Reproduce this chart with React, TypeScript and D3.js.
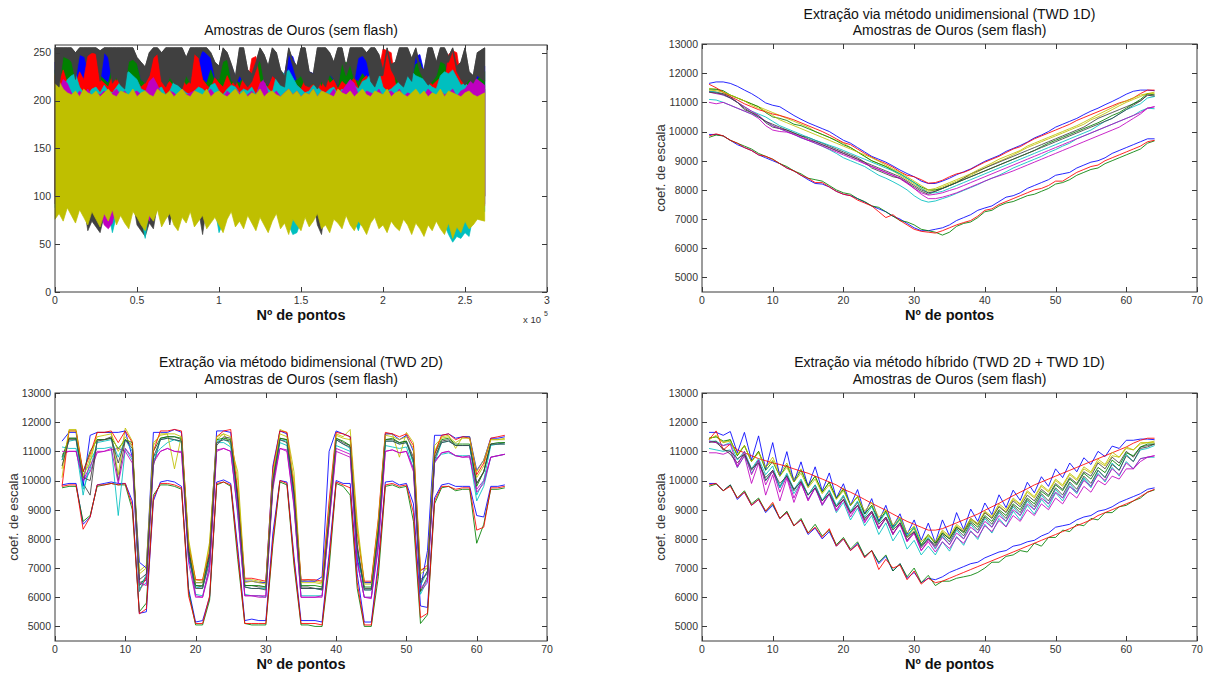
import React from 'react';
import * as d3 from 'd3';

// MATLAB (pre-2014) default colour order
const seriesColors = ['#0000ff', '#008000', '#ff0000', '#00bfbf', '#bf00bf', '#bfbf00', '#404040'];
const pointIndex = d3.range(1, 65);

// ---------- TWD 1D ----------
const w1_lowBlue = [9900,9900,9850,9700,9550,9450,9350,9200,9100,9000, 8900,8750,8650,8500,8350,8220,8200,8100,7950,7850, 7800,7700,7580,7450,7350,7250,7100,7000,6850,6700, 6600,6600,6650,6700,6800,6950,7050,7150,7300,7380, 7450,7600,7750,7800,7900,8050,8150,8250,8350,8500, 8550,8600,8750,8850,8950,9000,9100,9250,9350,9450, 9550,9650,9750,9750];
const w1_lowGreen = [9800,9880,9850,9700,9600,9500,9400,9250,9150,9050, 8900,8800,8650,8550,8400,8350,8300,8150,8000,7900, 7850,7700,7600,7450,7400,7250,7100,6950,6900,6800, 6650,6600,6550,6450,6550,6750,6850,6900,7050,7250, 7300,7450,7550,7600,7700,7800,7850,7950,8050,8200, 8250,8350,8500,8600,8700,8750,8900,9000,9100,9200, 9300,9400,9600,9680];
const w1_lowRed = [9850,9920,9850,9700,9600,9450,9350,9200,9150,9050, 8900,8750,8650,8500,8400,8250,8250,8100,7950,7850, 7800,7650,7550,7450,7250,7050,7150,6950,6800,6650, 6580,6550,6520,6600,6700,6800,6880,6950,7100,7300, 7350,7500,7600,7700,7800,7900,8000,8050,8150,8300, 8300,8450,8600,8700,8800,8850,9000,9100,9200,9300, 9400,9500,9650,9700];
const w1_cyanA = [11100,11080,11000,10900,10800,10700,10600,10500,10350,10200, 10100,10000,9900,9780,9700,9600,9500,9380,9250,9100, 9000,8900,8800,8650,8500,8400,8280,8150,8000,7800, 7650,7580,7620,7700,7780,7880,7980,8080,8180,8300, 8400,8500,8620,8750,8850,8950,9050,9150,9280,9380, 9500,9600,9750,9850,9950,10050,10150,10250,10350,10450, 10550,10700,10800,10780];
const w1_magentaA = [11000,10950,11000,10900,10800,10700,10600,10450,10200,10050, 10000,9980,9900,9800,9700,9650,9550,9450,9350,9250, 9150,9050,8900,8800,8700,8600,8500,8380,8220,8050, 7850,7700,7700,7750,7820,7900,8000,8100,8200,8300, 8400,8480,8560,8650,8750,8850,8950,9050,9150,9250, 9350,9450,9550,9650,9750,9850,9950,10050,10150,10300, 10450,10600,10800,10850];
const w1_yellowA = [11480,11450,11350,11250,11150,11050,10950,10850,10750,10650, 10550,10450,10350,10250,10150,10000,9900,9800,9700,9600, 9450,9300,9150,9000,8900,8800,8650,8500,8350,8200, 8050,7950,8000,8100,8200,8300,8400,8500,8620,8750, 8870,8980,9080,9200,9320,9450,9550,9650,9750,9850, 9950,10050,10150,10250,10400,10500,10620,10750,10880,11000, 11100,11200,11300,11350];
const w1_grayA = [11380,11350,11300,11200,11000,10750,10650,10550,10300,10150, 10100,10050,9950,9850,9800,9700,9600,9500,9400,9300, 9200,9100,8950,8750,8650,8550,8450,8400,8250,8100, 7950,7850,7950,8050,8150,8250,8400,8550,8650,8750, 8850,8950,9050,9150,9250,9350,9450,9550,9650,9750, 9850,9950,10050,10150,10300,10450,10550,10650,10750,10850, 10950,11050,11250,11200];
const w1_blue = [11650,11700,11700,11650,11550,11420,11300,11150,10980,10900, 10850,10700,10550,10420,10300,10200,10100,10000,9850,9700, 9600,9450,9300,9150,9050,8950,8820,8680,8560,8450, 8300,8220,8220,8300,8400,8520,8620,8720,8850,8980, 9080,9180,9320,9420,9520,9640,9780,9880,10000,10150, 10250,10350,10450,10580,10700,10800,10920,11030,11150,11280, 11380,11420,11420,11400];
const w1_green = [11450,11450,11400,11250,11150,11050,10950,10850,10650,10500, 10450,10380,10250,10200,10100,10000,9900,9800,9680,9550, 9450,9300,9150,9000,8900,8800,8680,8550,8400,8250, 8100,8000,8000,8050,8150,8250,8350,8450,8550,8650, 8750,8850,8950,9050,9150,9250,9350,9480,9600,9700, 9800,9900,10000,10100,10200,10300,10420,10550,10650,10800, 10950,11100,11300,11250];
const w1_red = [11620,11500,11350,11200,11080,10950,10850,10750,10680,10600, 10550,10480,10400,10300,10200,10100,10000,9880,9750,9620, 9550,9400,9250,9120,9000,8900,8780,8620,8500,8450, 8350,8230,8250,8330,8450,8550,8600,8700,8830,8950, 9050,9150,9280,9400,9480,9620,9750,9850,9950,10050, 10150,10250,10380,10480,10580,10680,10780,10880,10980,11050, 11150,11300,11420,11420];
const w1_cyanB = [11380,11350,11250,11150,11000,10850,10700,10600,10500,10350, 10200,10100,10000,9900,9800,9700,9620,9530,9450,9350, 9250,9150,9050,8950,8850,8750,8650,8550,8400,8250, 8050,7900,7900,7950,8050,8150,8250,8350,8450,8550, 8650,8750,8850,8950,9050,9150,9250,9350,9450,9550, 9650,9750,9850,9950,10050,10200,10350,10450,10600,10750, 10850,10950,11150,11200];
const w1_magentaB = [11350,11300,11250,11150,11000,10850,10700,10550,10350,10200, 10100,10000,9900,9800,9700,9600,9500,9400,9300,9200, 9100,9000,8900,8800,8700,8600,8500,8400,8250,8050, 7900,7820,7850,7900,7980,8050,8150,8250,8350,8450, 8550,8650,8750,8850,8950,9050,9150,9250,9350,9450, 9550,9650,9750,9850,9950,10050,10150,10250,10350,10450, 10550,10650,10800,10850];
const w1_yellowB = [11420,11400,11350,11250,11150,11050,10900,10800,10700,10550, 10400,10300,10200,10100,10000,9900,9800,9700,9600,9500, 9400,9300,9200,9100,8980,8850,8720,8600,8450,8300, 8150,8000,8050,8150,8250,8350,8450,8550,8680,8800, 8920,9050,9150,9250,9350,9500,9600,9700,9800,9900, 10000,10100,10200,10320,10450,10580,10700,10820,10950,11050, 11150,11250,11300,11300];
const w1_grayB = [11350,11320,11280,11150,11000,10800,10650,10500,10350,10250, 10150,10050,9950,9850,9750,9650,9550,9450,9350,9250, 9150,9050,8950,8850,8750,8650,8550,8450,8300,8150, 8000,7900,7950,8050,8150,8250,8350,8450,8550,8650, 8750,8850,8950,9050,9150,9250,9350,9450,9550,9650, 9750,9850,9950,10050,10150,10250,10350,10450,10600,10750, 10900,11050,11250,11250];

// ---------- TWD 2D ----------
const w2_lowBlue = [9850,9900,9900,8500,8750,9850,9900,9950,9900,9900, 9300,5450,5500,9300,9950,10000,9950,9800,6300,5150, 5200,6000,9950,10020,9900,7700,5200,5250,5200,5200, 8200,10000,9950,7400,5200,5200,5200,5150,7500,10000, 9900,9900,6800,5150,5150,7200,9950,9980,9850,9900, 9200,5700,5650,9400,9850,9900,9800,9800,9800,8800, 8750,9800,9800,9850];
const w2_lowGreen = [9750,9800,9800,8600,8800,9800,9850,9900,9850,9850, 9000,5500,5800,9500,9850,9850,9800,9700,6200,5050, 5050,5900,9850,9950,9800,7300,5100,5050,5050,5050, 7800,9950,9850,7100,5050,5050,5000,5000,7000,9900, 9800,9500,6300,5000,5000,6700,9800,9850,9750,9800, 8600,5100,5400,9200,9750,9800,9650,9700,9700,7850, 8500,9700,9700,9750];
const w2_lowRed = [9800,9850,9850,8330,8750,9850,9850,9900,9850,9900, 9150,5430,5600,9400,9900,9900,9850,9750,6050,5100, 5100,6050,9900,9950,9850,7500,5100,5100,5100,5100, 7950,10000,9900,7250,5100,5100,5100,5050,7250,9950, 9850,9750,6500,5050,5050,7000,9850,9900,9800,9850, 8900,5300,5450,9300,9800,9800,9700,9750,9750,8300, 8400,9750,9750,9800];
const w2_cyanA = [11150,11100,11100,9500,10700,11100,11100,11150,8800,11100, 10700,6300,6500,10800,11100,11300,11400,11300,7500,6100, 6050,7000,11300,11300,11150,8800,6100,6050,6050,6000, 9900,11300,11200,9200,6050,6050,6050,6050,8600,11200, 11100,11000,7200,6000,6000,7800,11200,11150,11100,11150, 10400,6100,6600,10700,10900,10950,10850,10850,10850,9300, 9800,10800,10850,10900];
const w2_magentaA = [10900,11000,11000,10000,10300,10950,11000,11050,11100,11000, 10600,6400,6600,10700,11000,11100,11000,10950,7600,6050, 6000,6900,11000,11100,11000,8900,6050,6050,6050,6050, 9700,11100,11000,9100,6000,6000,6000,6050,8500,11000, 10900,10800,7300,6000,5950,7700,11000,11050,10950,11000, 10300,6200,6500,10600,10950,11000,10850,10800,10800,9700, 10000,10800,10850,10900];
const w2_yellowA = [10100,11750,11750,10200,10600,11650,11650,11650,10200,11800, 11350,6900,7100,11200,11600,11600,10400,11550,8000,6600, 6550,7900,11400,11600,11200,10300,6600,6600,6550,6500, 10100,11750,11650,10300,6550,6600,6550,6500,8900,11600, 11500,11750,8600,6500,6500,8500,11600,11600,10800,11650, 11300,6950,7000,11000,11500,11550,11100,11500,11500,10100, 10500,11400,11400,11450];
const w2_grayA = [10700,11450,11450,9900,9500,11400,11400,11500,10000,11400, 11200,6500,6600,10500,11450,11500,11500,11400,7600,6400, 6350,7200,11200,11500,11450,9300,6400,6400,6350,6350, 9800,11450,11400,9400,6350,6350,6300,6300,8700,11450, 11300,11200,7800,6300,6300,8300,11400,11400,11300,11350, 10800,6600,6800,10700,11350,11400,11200,11200,11200,9900, 10300,11250,11250,11300];
const w2_blue = [11350,11650,11650,9800,11550,11650,11650,11650,11650,11700, 10800,7200,7000,11650,11650,11650,11750,11650,7300,6500, 6500,7500,11700,11700,11650,9200,6550,6550,6500,6500, 10500,11700,11600,9500,6550,6550,6550,6700,11000,11700, 11600,11500,7300,6500,6500,8200,11600,11600,11400,11550, 11000,6300,7600,11550,11550,11600,11450,11500,11500,10350, 10700,11450,11450,11500];
const w2_green = [10800,11450,11450,10300,11000,11400,11400,11450,11100,11400, 11300,6400,6700,11000,11450,11500,11500,11450,7700,6400, 6400,7500,11400,11450,11400,9500,6400,6400,6400,6350, 10100,11450,11400,9600,6400,6400,6400,6350,8800,11450, 11350,11200,7600,6350,6350,8400,11400,11450,11300,11350, 10600,6200,6700,10900,11400,11450,11250,11250,11250,9800, 10300,11250,11300,11300];
const w2_red = [9800,11700,11700,10300,10900,11650,11650,11700,11300,11700, 11300,6200,6700,11000,11700,11700,11750,11700,7800,6600, 6600,7600,11500,11700,11750,9600,6650,6650,6600,6550, 10400,11700,11650,9800,6600,6600,6600,6550,9300,11650, 11600,11500,8200,6550,6550,8700,11650,11600,11500,11600, 11200,6900,7100,10900,11550,11600,11400,11500,11450,10200, 10600,11450,11500,11550];
const w2_cyanB = [10700,11350,11400,9700,10400,11300,11350,11400,10800,11400, 11000,6200,6800,10600,11400,11450,11400,11350,7400,6350, 6300,7300,11350,11400,11300,9100,6350,6300,6300,6300, 10000,11400,11350,9300,6300,6300,6300,6250,8700,11400, 11250,11100,7500,6250,6250,8100,11350,11350,11250,11300, 10600,6400,6900,10600,11300,11350,11200,11200,11200,9500, 10000,11200,11250,11250];
const w2_magentaB = [11000,11000,11000,10000,10500,11000,11000,11100,9900,11100, 10800,6500,6400,10600,11000,11100,11000,11000,7200,6000, 6000,7100,11050,11100,11000,9000,6050,6050,6000,6000, 9900,11100,11050,9200,6000,6000,6000,6000,8600,11100, 11000,10900,7200,6000,6000,7900,11000,11050,10950,11000, 10400,6300,6600,10650,10950,11000,10850,10800,10850,9600, 9900,10800,10850,10900];
const w2_yellowB = [10400,11700,11700,10100,10800,11500,11550,11600,11000,11500, 11200,6800,7000,11300,11550,11600,11600,11500,7900,6500, 6500,7800,11500,11600,11500,10000,6500,6550,6500,6450, 10200,11600,11500,10000,6500,6500,6500,6450,9000,11550, 11450,11400,8400,6450,6450,8600,11550,11500,11400,11500, 11100,6800,7000,11200,11450,11500,11300,11450,11450,10300, 10700,11400,11400,11400];
const w2_grayB = [10500,11400,11400,10100,10000,11350,11400,11450,10600,11400, 11100,6600,6800,10800,11400,11450,11400,11350,7500,6300, 6300,7400,11300,11400,11350,9400,6350,6300,6300,6250, 10000,11400,11300,9600,6300,6300,6300,6250,8800,11400, 11250,11150,7700,6250,6250,8200,11350,11350,11250,11300, 10700,6500,6900,10800,11300,11350,11200,11200,11200,9900, 10300,11250,11250,11250];

// ---------- Hybrid (TWD 2D + TWD 1D) ----------
const wh_lowBlue = [9900,9900,9650,9850,9350,9600,9150,9350,8900,9150, 8700,8900,8450,8650,8150,8370,8000,8250,7750,8000, 7600,7850,7380,7600,7150,7400,6900,7150,6650,6850, 6500,6650,6600,6700,6850,6950,7050,7150,7200,7350, 7450,7550,7600,7750,7800,7900,7950,8100,8200,8400, 8450,8500,8650,8750,8800,8950,9000,9100,9250,9350, 9450,9550,9700,9750];
const wh_lowGreen = [9800,9880,9650,9850,9400,9650,9200,9400,8950,9200, 8700,8950,8450,8700,8200,8500,8100,8300,7800,8050, 7650,7900,7400,7600,7200,7450,6900,7150,6700,7000, 6500,6750,6400,6550,6550,6650,6700,6750,6850,7000, 7200,7200,7400,7450,7600,7550,7850,7750,8050,8050, 8300,8250,8500,8450,8700,8650,8900,8900,9100,9150, 9300,9400,9600,9680];
const wh_lowRed = [9850,9900,9650,9800,9400,9600,9150,9350,8950,9250, 8700,8900,8450,8650,8200,8400,8050,8350,7750,8000, 7600,7800,7350,7600,6950,7300,7000,7100,6600,6900, 6450,6650,6500,6550,6650,6750,6850,6950,7050,7150, 7250,7350,7450,7550,7650,7750,7850,7950,8050,8150, 8250,8350,8450,8550,8650,8800,8900,9000,9100,9200, 9300,9450,9600,9700];
const wh_cyanA = [11100,11050,11000,11050,10450,10850,10250,10650,10000,10350, 9750,10150,9550,9930,9350,9750,9150,9530,8900,9250, 8650,9050,8450,8800,8150,8550,7930,8300,7650,7950, 7450,7750,7450,7900,7580,8080,7780,8280,7980,8500, 8200,8700,8420,8950,8650,9150,8850,9350,9080,9580, 9300,9800,9550,10050,9750,10250,9950,10450,10150,10650, 10400,10750,10800,10800];
const wh_magentaA = [10950,10950,10900,11000,10450,10850,9900,10600,9500,10200, 9300,10080,9250,9900,9350,9750,9200,9550,9000,9350, 8850,9150,8600,8900,8400,8700,8200,8480,7920,8200, 7600,7900,7550,7900,7670,8050,7850,8250,8050,8450, 8250,8630,8410,8800,8600,9000,8800,9200,9000,9400, 9200,9600,9400,9800,9600,10000,9850,10150,10050,10400, 10400,10650,10800,10850];
const wh_yellowA = [11450,11500,11300,11400,10850,11200,10650,11000,10450,10800, 10250,10600,10050,10400,9850,10150,9600,9950,9400,9750, 9150,9450,8850,9150,8600,8950,8350,8650,8050,8350, 7800,8100,7850,8250,8050,8450,8250,8650,8470,8900, 8720,9130,8930,9350,9170,9600,9400,9800,9600,10000, 9800,10200,10000,10400,10250,10650,10500,10850,10800,11100, 11050,11250,11300,11350];
const wh_grayA = [11350,11300,11100,10900,10600,10900,10350,10700,10000,10300, 9800,10200,9650,10000,9500,9850,9300,9650,9100,9450, 8900,9250,8650,8900,8350,8700,8150,8550,7950,8250, 7700,8000,7800,8200,8000,8400,8250,8700,8500,8900, 8700,9100,8900,9300,9100,9500,9300,9700,9500,9900, 9700,10100,9900,10300,10150,10600,10400,10800,10600,11000, 10800,11150,11200,11250];
const wh_blue = [11650,11650,11550,11680,10950,11650,10700,11530,10380,11300, 10150,10990,9950,10640,9800,10470,9650,10260,9400,9890, 9150,9690,8850,9380,8600,9150,8420,8860,8160,8650, 7950,8540,7870,8650,8100,8900,8320,9020,8600,9230, 8830,9510,9070,9670,9320,9940,9580,10130,9800,10400, 10100,10600,10300,10780,10550,11000,10820,11180,11100,11380, 11380,11420,11420,11400];
const wh_green = [11450,11500,11350,11400,10850,11200,10650,11000,10350,10650, 10150,10530,9950,10350,9800,10150,9600,9950,9380,9700, 9150,9450,8850,9150,8600,8950,8380,8700,8100,8400, 7800,8150,7850,8200,8000,8400,8200,8600,8400,8800, 8600,9000,8800,9200,9000,9400,9200,9630,9450,9850, 9650,10050,9850,10250,10050,10450,10270,10700,10500,10950, 10850,11150,11250,11250];
const wh_red = [11400,11700,11050,11250,11050,10950,10850,10750,10680,10600, 10550,10480,10400,10320,10250,10150,10050,9950,9850,9700, 9600,9480,9350,9220,9100,8980,8850,8720,8600,8500, 8400,8300,8300,8350,8450,8550,8650,8750,8850,8980, 9100,9220,9350,9480,9600,9720,9850,9950,10050,10150, 10250,10350,10450,10550,10650,10750,10850,10950,11050,11150, 11280,11380,11450,11450];
const wh_cyanB = [11350,11350,11200,11300,10700,11000,10400,10750,10200,10500, 9750,10250,9700,10050,9500,9850,9320,9680,9150,9500, 8950,9300,8750,9100,8550,8900,8350,8700,8100,8400, 7750,8050,7650,8100,7800,8300,8000,8500,8200,8700, 8400,8900,8600,9100,8800,9300,9000,9500,9200,9700, 9400,9900,9600,10100,9800,10350,10100,10600,10350,10900, 10650,11050,11100,11200];
const wh_magentaB = [11350,11300,11200,11250,10500,11000,10200,10700,9850,10350, 9600,10150,9400,9950,9300,9750,9150,9550,8950,9350, 8750,9150,8550,8950,8350,8750,8150,8550,7900,8200, 7600,7950,7700,8050,7800,8200,8000,8400,8200,8600, 8400,8800,8600,9000,8800,9200,9000,9400,9200,9600, 9400,9800,9600,10000,9800,10200,10000,10400,10200,10600, 10400,10750,10800,10850];
const wh_yellowB = [11400,11550,11300,11350,10900,11200,10650,10950,10450,10700, 10150,10450,9950,10250,9750,10050,9550,9850,9350,9650, 9150,9450,8950,9250,8730,9000,8470,8750,8200,8450, 7900,8150,7900,8300,8100,8500,8300,8700,8530,8950, 8770,9200,9000,9400,9200,9650,9450,9850,9650,10050, 9850,10250,10050,10470,10300,10730,10550,10970,10800,11150, 11050,11300,11300,11300];
const wh_grayB = [11300,11350,11050,11000,10750,10900,10400,10600,10100,10350, 9900,10150,9700,9950,9500,9750,9300,9550,9100,9350, 8900,9150,8700,8950,8500,8750,8300,8550,8050,8250, 7750,8000,7750,8150,7900,8350,8100,8550,8300,8750, 8500,8950,8700,9150,8900,9350,9100,9550,9300,9750, 9500,9950,9700,10150,9900,10350,10100,10550,10350,10850, 10650,11100,11150,11250];

const series1D = [w1_lowBlue, w1_lowGreen, w1_lowRed, w1_cyanA, w1_magentaA, w1_yellowA, w1_grayA, w1_blue, w1_green, w1_red, w1_cyanB, w1_magentaB, w1_yellowB, w1_grayB];
const series2D = [w2_lowBlue, w2_lowGreen, w2_lowRed, w2_cyanA, w2_magentaA, w2_yellowA, w2_grayA, w2_blue, w2_green, w2_red, w2_cyanB, w2_magentaB, w2_yellowB, w2_grayB];
const seriesHyb = [wh_lowBlue, wh_lowGreen, wh_lowRed, wh_cyanA, wh_magentaA, wh_yellowA, wh_grayA, wh_blue, wh_green, wh_red, wh_cyanB, wh_magentaB, wh_yellowB, wh_grayB];

// ---------- Raw samples: envelopes read every 2500 points ----------
const tlSampleX = [...d3.range(0, 260000, 2500), 262000];
const tlGrayTopUpper = [255,255,255,255,255,250,255,255,255,255, 255,252,255,255,255,255,255,255,255,255, 245,240,235,250,255,255,250,255,255,255, 255,255,245,255,255,255,255,255,250,240, 236,255,250,238,225,255,255,232,228,240, 255,248,236,255,250,232,226,255,242,236, 255,255,230,228,255,255,255,250,240,255, 255,235,255,255,255,255,250,255,255,248, 232,255,238,240,255,255,255,244,255,236, 232,255,255,240,255,255,246,255,236,240, 255,230,226,250,255];
const tlGrayTopLower = [218,214,246,244,242,222,248,246,248,250, 250,220,250,246,218,224,216,212,242,244, 240,222,218,226,246,250,220,214,224,218, 216,212,226,218,250,246,252,250,246,224, 222,242,244,222,216,226,220,214,220,232, 244,220,216,226,222,216,214,250,236,222, 226,216,214,218,212,220,214,228,222,216, 240,226,238,222,246,248,242,220,214,226, 226,252,232,224,218,214,226,220,248,230, 222,216,220,226,242,240,240,252,230,222, 216,222,218,226,220];
const tlRedUpper = [226,220,232,218,224,216,230,222,246,250, 248,222,218,214,226,220,232,218,228,224, 220,214,218,226,244,248,222,216,220,214, 228,222,216,220,248,244,222,216,212,224, 218,214,226,216,222,212,224,218,244,246, 220,216,214,226,222,218,224,214,220,216, 212,222,218,216,224,214,226,218,222,212, 220,216,218,224,212,222,226,218,220,230, 254,252,250,218,214,224,220,216,226,218, 214,222,216,220,224,218,248,252,250,222, 218,214,220,216,212];
const tlGreenUpper = [232,226,246,244,240,224,218,222,226,218, 220,226,222,218,236,226,222,220,240,242, 238,220,226,218,222,214,226,218,234,222, 228,222,230,224,218,238,222,218,232,220, 226,240,242,220,222,218,226,220,218,242, 240,224,216,220,228,218,220,226,218,222, 226,220,218,224,230,222,218,226,220,214, 238,240,236,222,220,228,222,218,228,224, 218,220,226,232,224,220,218,222,238,240, 224,218,220,226,240,238,222,226,220,218, 228,226,224,222,230];
const tlBlueUpper = [240,232,228,236,230,226,248,246,230,226, 228,226,250,244,238,232,228,226,232,230, 236,232,230,240,228,232,236,226,238,232, 228,232,236,230,226,238,252,248,244,232, 228,232,230,236,224,230,236,228,226,232, 236,226,232,240,230,224,228,248,246,232, 226,232,230,228,236,232,228,224,230,226, 232,228,224,236,244,246,240,232,230,228, 226,232,230,224,232,230,228,236,246,248, 230,228,226,232,228,226,242,244,230,226, 232,228,224,234,236];
const tlCyanUpper = [212,208,210,222,226,228,214,208,206,212, 214,208,216,210,208,214,220,228,230,226, 222,212,210,206,208,212,214,206,210,220, 216,212,208,206,210,214,212,208,216,218, 210,206,212,216,214,208,212,210,214,206, 216,218,212,208,226,230,228,232,224,216, 212,208,210,216,214,210,208,212,214,206, 212,208,210,216,212,220,222,228,232,230, 214,210,212,216,220,226,228,230,226,224, 222,218,214,212,226,230,228,232,224,216, 218,214,212,210,212];
const tlCyanLower = [88,92,84,96,90,84,96,88,80,94, 86,78,92,84,62,80,90,82,76,94, 88,80,56,90,84,96,78,86,92,80, 74,88,82,94,78,84,90,76,82,88, 62,72,86,94,78,84,76,90,82,74, 88,80,72,84,92,76,82,70,60,62, 74,88,78,84,92,76,80,72,86,82, 76,90,80,74,64,78,70,82,88,76, 80,72,84,78,74,86,80,70,82,76, 68,80,74,84,76,70,60,52,58,56, 62,58,80,86,84];
const tlMagentaUpper = [206,210,222,218,208,204,210,206,212,204, 208,206,210,204,208,212,206,210,204,208, 210,206,208,220,224,216,206,204,210,208, 204,212,206,208,210,206,204,208,212,206, 208,204,210,206,212,208,204,206,210,204, 218,222,208,206,210,204,208,212,206,210, 204,208,206,212,204,210,208,206,212,204, 210,216,222,218,206,204,210,208,206,212, 204,208,210,206,212,204,208,206,210,204, 206,212,208,204,210,206,208,212,204,210, 212,218,224,222,216];
const tlMagentaLower = [92,96,90,98,94,88,96,90,86,94, 90,84,70,66,72,92,88,94,86,96, 90,84,88,74,90,96,86,92,94,88, 86,92,88,96,90,86,94,88,90,96, 88,84,92,96,86,90,84,94,88,82, 92,86,80,90,94,84,88,82,92,86, 84,92,86,90,94,80,88,84,92,88, 84,94,88,82,90,86,78,90,94,84, 88,80,90,86,82,92,88,78,90,84, 80,88,82,92,84,78,90,80,86,82, 90,84,88,92,90];
const tlGrayLowLower = [92,96,88,98,94,90,96,92,64,74, 68,62,80,90,96,88,94,90,86,96, 70,64,58,72,66,92,88,94,70,92, 88,94,90,96,92,86,60,90,88,94, 90,86,92,96,88,92,86,94,90,84, 92,88,84,90,94,86,90,84,92,88, 86,92,88,94,70,60,92,86,94,90, 88,94,90,84,92,88,82,92,94,86, 90,84,92,88,86,94,90,82,92,88, 84,90,86,94,88,82,92,84,90,86, 92,88,90,94,92];
const tlYellowUpper = [228,220,212,208,206,210,204,212,208,206, 210,204,208,212,206,204,210,208,206,212, 204,208,210,206,204,212,208,206,210,204, 208,212,206,204,210,208,206,212,204,208, 210,206,204,208,212,206,210,204,208,206, 212,204,208,210,206,204,208,212,206,210, 204,208,206,212,204,210,208,206,204,212, 208,206,210,204,208,212,206,204,210,208, 206,212,204,208,210,206,204,208,212,206, 210,204,208,206,212,204,210,208,206,204, 208,210,206,204,208];
const tlYellowLower = [76,82,74,88,80,72,86,78,70,84, 76,68,82,74,86,70,80,72,66,84, 78,70,64,80,74,86,68,76,82,70, 64,78,72,84,68,74,80,66,72,78, 70,62,76,84,68,74,66,80,72,64, 78,70,62,74,82,66,72,60,76,70, 64,78,68,74,82,66,70,62,76,72, 66,80,70,64,74,68,60,72,78,66, 70,62,74,68,64,76,70,60,72,66, 58,70,64,74,66,60,72,56,68,62, 74,66,70,76,74];
const tlHiddenFloor = 100;

const tlXTicks = [0, 50000, 100000, 150000, 200000, 250000, 300000];
const tlXTickLabels = ['0', '0.5', '1', '1.5', '2', '2.5', '3'];
const tlYTicks = [0, 50, 100, 150, 200, 250];
const coefXTicks = [0, 10, 20, 30, 40, 50, 60, 70];
const coefYTicks = [5000, 6000, 7000, 8000, 9000, 10000, 11000, 12000, 13000];

const FONT = '"Liberation Sans", Arial, Helvetica, sans-serif';
const AXIS_COLOR = '#3a3a3a';

type Box = { x0: number; x1: number; y0: number; y1: number };

function Axes({ box, x, y, xTicks, yTicks, xLabels }: any) {
  const tl = 5;
  return (
    <g>
      <rect x={box.x0} y={box.y0} width={box.x1 - box.x0} height={box.y1 - box.y0} fill="none" stroke={AXIS_COLOR} strokeWidth={1} />
      {xTicks.map((t: number, i: number) => {
        const px = Math.round(x(t)) + 0.5;
        return (
          <g key={'x' + i}>
            <line x1={px} x2={px} y1={box.y1} y2={box.y1 - tl} stroke={AXIS_COLOR} />
            <line x1={px} x2={px} y1={box.y0} y2={box.y0 + tl} stroke={AXIS_COLOR} />
            <text x={x(t)} y={box.y1 + 11.5} textAnchor="middle" fontSize={10.5} fontFamily={FONT} fill="#333">{xLabels ? xLabels[i] : String(t)}</text>
          </g>
        );
      })}
      {yTicks.map((t: number, i: number) => {
        const py = Math.round(y(t)) + 0.5;
        return (
          <g key={'y' + i}>
            <line x1={box.x0} x2={box.x0 + tl} y1={py} y2={py} stroke={AXIS_COLOR} />
            <line x1={box.x1} x2={box.x1 - tl} y1={py} y2={py} stroke={AXIS_COLOR} />
            <text x={box.x0 - 4} y={y(t) + 3.8} textAnchor="end" fontSize={10.5} fontFamily={FONT} fill="#333">{String(t)}</text>
          </g>
        );
      })}
    </g>
  );
}

function Titles({ box, lines, base }: { box: Box; lines: string[]; base: number }) {
  const cx = (box.x0 + box.x1) / 2;
  return (
    <g>
      {lines.map((l, i) => (
        <text key={i} x={cx} y={base + i * 16.5} textAnchor="middle" fontSize={14} fontFamily={FONT} fill="#111">{l}</text>
      ))}
    </g>
  );
}

function XLabel({ box, y }: { box: Box; y: number }) {
  return (
    <text x={(box.x0 + box.x1) / 2} y={y} textAnchor="middle" fontSize={14.5} fontWeight="bold" fontFamily={FONT} fill="#111">Nº de pontos</text>
  );
}

function YLabel({ box }: { box: Box }) {
  const cx = box.x0 - 37;
  const cy = (box.y0 + box.y1) / 2;
  return (
    <text transform={`translate(${cx},${cy}) rotate(-90)`} textAnchor="middle" fontSize={13} fontFamily={FONT} fill="#333">coef. de escala</text>
  );
}

function CoefPanel({ box, series, titles, titleBase, xLabelY }: any) {
  const x = d3.scaleLinear().domain([0, 70]).range([box.x0, box.x1]);
  const y = d3.scaleLinear().domain([4500, 13000]).range([box.y1, box.y0]);
  const line = d3.line<number>().x((_, i) => x(pointIndex[i])).y((d) => y(d));
  return (
    <g>
      <rect x={box.x0} y={box.y0} width={box.x1 - box.x0} height={box.y1 - box.y0} fill="#fff" />
      {series.map((s: number[], i: number) => (
        <path key={i} d={line(s) || ''} fill="none" stroke={seriesColors[i % 7]} strokeWidth={1} strokeOpacity={0.85} />
      ))}
      <Axes box={box} x={x} y={y} xTicks={coefXTicks} yTicks={coefYTicks} />
      <Titles box={box} lines={titles} base={titleBase} />
      <XLabel box={box} y={xLabelY} />
      <YLabel box={box} />
    </g>
  );
}

function RawPanel({ box }: { box: Box }) {
  const x = d3.scaleLinear().domain([0, 300000]).range([box.x0, box.x1]);
  const y = d3.scaleLinear().domain([0, 258]).range([box.y1, box.y0]);
  const val = (v: number | number[], i: number) => (Array.isArray(v) ? v[i] : v);
  const bands: { color: string; upper: number | number[]; lower: number | number[] }[] = [
    { color: seriesColors[6], upper: tlGrayTopUpper, lower: tlGrayLowLower },
    { color: seriesColors[0], upper: tlBlueUpper, lower: tlHiddenFloor },
    { color: seriesColors[1], upper: tlGreenUpper, lower: tlHiddenFloor },
    { color: seriesColors[2], upper: tlRedUpper, lower: tlHiddenFloor },
    { color: seriesColors[3], upper: tlCyanUpper, lower: tlCyanLower },
    { color: seriesColors[4], upper: tlMagentaUpper, lower: tlMagentaLower },
    { color: seriesColors[5], upper: tlYellowUpper, lower: tlYellowLower },
    { color: seriesColors[6], upper: tlGrayTopUpper, lower: tlGrayTopLower },
  ];
  return (
    <g>
      {bands.map((b, k) => {
        const area = d3
          .area<number>()
          .x((d) => x(d))
          .y0((_, i) => y(val(b.lower, i)))
          .y1((_, i) => y(val(b.upper, i)));
        return <path key={k} d={area(tlSampleX) || ''} fill={b.color} stroke={b.color} strokeWidth={0.7} />;
      })}
      <Axes box={box} x={x} y={y} xTicks={tlXTicks} yTicks={tlYTicks} xLabels={tlXTickLabels} />
      <Titles box={box} lines={['Amostras de Ouros (sem flash)']} base={35} />
      <XLabel box={box} y={320} />
      <text x={box.x1 - 24} y={323} fontSize={9.5} fontFamily={FONT} fill="#333">x 10</text>
      <text x={box.x1 - 3} y={316} fontSize={7} fontFamily={FONT} fill="#333">5</text>
    </g>
  );
}

export default function App() {
  const tl: Box = { x0: 55, x1: 547, y0: 45, y1: 292 };
  const tr: Box = { x0: 702, x1: 1197, y0: 44, y1: 292 };
  const bl: Box = { x0: 55, x1: 547, y0: 393, y1: 641 };
  const br: Box = { x0: 702, x1: 1197, y0: 393, y1: 641 };
  return (
    <svg width={1206} height={675} style={{ position: 'fixed', left: 0, top: 0, background: '#fff' }}>
      <rect width={1206} height={675} fill="#fff" />
      <RawPanel box={tl} />
      <CoefPanel box={tr} series={series1D} titles={['Extração via método unidimensional (TWD 1D)', 'Amostras de Ouros (sem flash)']} titleBase={18.5} xLabelY={320} />
      <CoefPanel box={bl} series={series2D} titles={['Extração via método bidimensional (TWD 2D)', 'Amostras de Ouros (sem flash)']} titleBase={367} xLabelY={669} />
      <CoefPanel box={br} series={seriesHyb} titles={['Extração via método híbrido (TWD 2D + TWD 1D)', 'Amostras de Ouros (sem flash)']} titleBase={367} xLabelY={669} />
    </svg>
  );
}
